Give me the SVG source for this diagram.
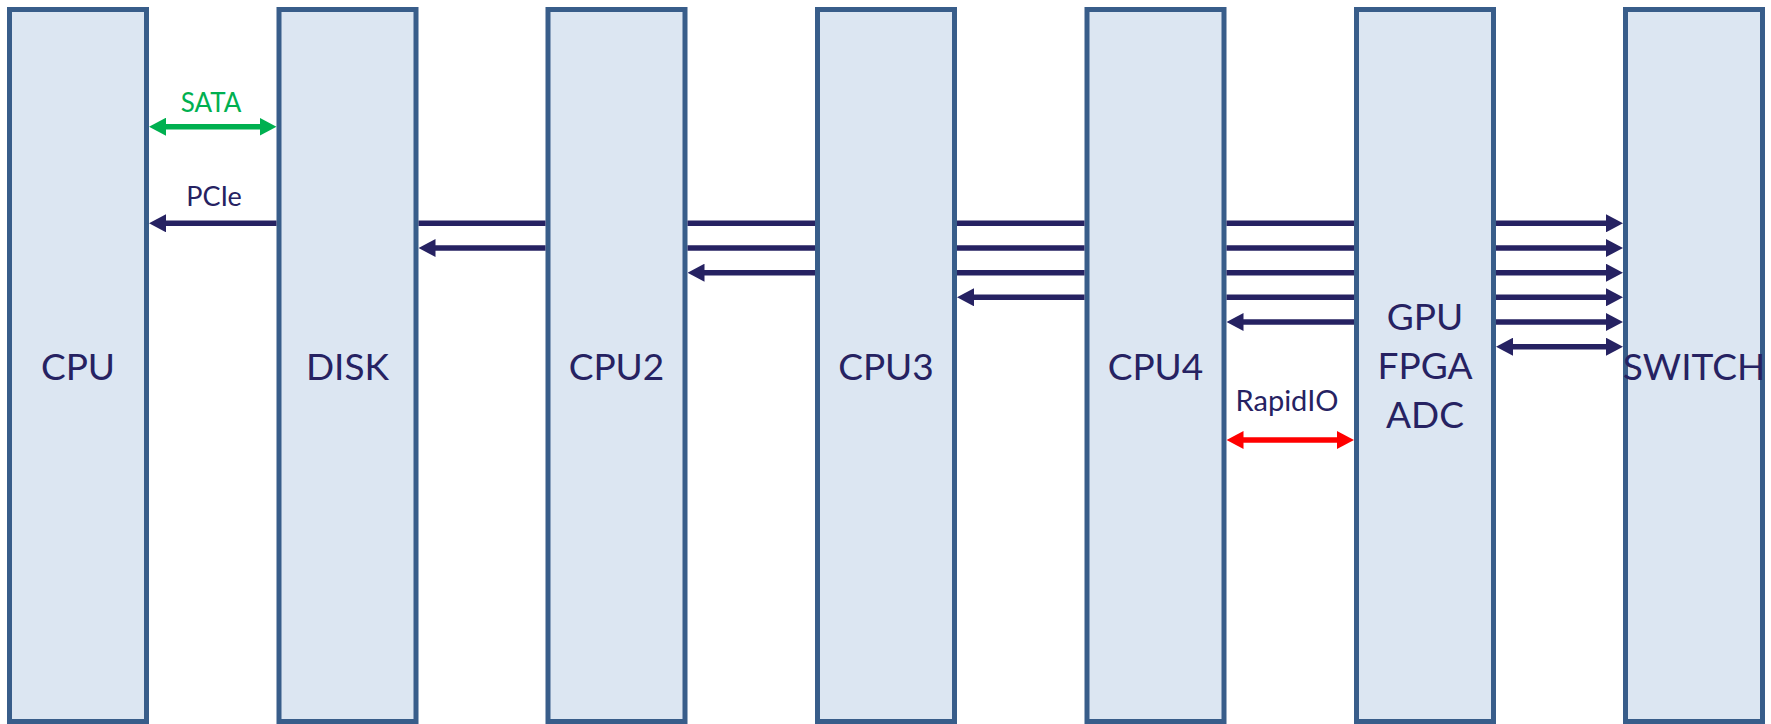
<svg xmlns="http://www.w3.org/2000/svg" width="1771" height="724" viewBox="0 0 1771 724">
<style>
.box{fill:#DCE6F2;stroke:#385D8A;stroke-width:5}
.lbl{font-family:Lato,"Liberation Sans",sans-serif;font-size:37px;fill:#262262;text-anchor:middle}
.clbl{font-family:Lato,"Liberation Sans",sans-serif;font-size:26px;text-anchor:middle}
.nv{stroke:#262262;stroke-width:5.5;fill:none}
.gr{stroke:#00B050;stroke-width:5.5;fill:none}
.rd{stroke:#FF0000;stroke-width:5.5;fill:none}
.ae{marker-end:url(#hN)}
</style>
<defs>
<marker id="hN" markerUnits="userSpaceOnUse" markerWidth="17" markerHeight="18" refX="2" refY="9" orient="auto-start-reverse" viewBox="0 0 17 18"><path d="M0,0 L17,9 L0,18 z" fill="#262262"/></marker>
<marker id="hG" markerUnits="userSpaceOnUse" markerWidth="17" markerHeight="18" refX="2" refY="9" orient="auto-start-reverse" viewBox="0 0 17 18"><path d="M0,0 L17,9 L0,18 z" fill="#00B050"/></marker>
<marker id="hR" markerUnits="userSpaceOnUse" markerWidth="17" markerHeight="18" refX="2" refY="9" orient="auto-start-reverse" viewBox="0 0 17 18"><path d="M0,0 L17,9 L0,18 z" fill="#FF0000"/></marker>
</defs>
<g id="cpu"><rect class="box" x="9.5" y="9.5" width="137" height="712"/><text class="lbl" x="78" y="380">CPU</text></g>
<g id="disk"><rect class="box" x="279" y="9.5" width="137" height="712"/><text class="lbl" x="347.5" y="380">DISK</text></g>
<g id="cpu2"><rect class="box" x="548" y="9.5" width="137" height="712"/><text class="lbl" x="616.5" y="380">CPU2</text></g>
<g id="cpu3"><rect class="box" x="817.5" y="9.5" width="137" height="712"/><text class="lbl" x="886" y="380">CPU3</text></g>
<g id="cpu4"><rect class="box" x="1087" y="9.5" width="137" height="712"/><text class="lbl" x="1155.5" y="380">CPU4</text></g>
<g id="gpu"><rect class="box" x="1356.5" y="9.5" width="137" height="712"/><text class="lbl" x="1425" y="330">GPU</text><text class="lbl" x="1425" y="379">FPGA</text><text class="lbl" x="1425" y="428">ADC</text></g>
<g id="switch"><rect class="box" x="1625.5" y="9.5" width="137" height="712"/><text class="lbl" x="1694" y="380">SWITCH</text></g>
<g id="connectors">
<line class="gr" x1="164" y1="126.7" x2="261.5" y2="126.7" marker-start="url(#hG)" marker-end="url(#hG)"/>
<text class="clbl" x="211" y="112" fill="#00B050">SATA</text>
<line class="nv ae" x1="276.5" y1="223.3" x2="164" y2="223.3"/>
<text class="clbl" x="214" y="206" fill="#262262" style="font-size:27px">PCIe</text>
<line class="nv" x1="418.5" y1="223.3" x2="545.5" y2="223.3"/>
<line class="nv ae" x1="545.5" y1="248" x2="433.5" y2="248"/>
<line class="nv" x1="687.5" y1="223.3" x2="815" y2="223.3"/>
<line class="nv" x1="687.5" y1="248" x2="815" y2="248"/>
<line class="nv ae" x1="815" y1="272.7" x2="702.5" y2="272.7"/>
<line class="nv" x1="957" y1="223.3" x2="1084.5" y2="223.3"/>
<line class="nv" x1="957" y1="248" x2="1084.5" y2="248"/>
<line class="nv" x1="957" y1="272.7" x2="1084.5" y2="272.7"/>
<line class="nv ae" x1="1084.5" y1="297.3" x2="972" y2="297.3"/>
<line class="nv" x1="1226.5" y1="223.3" x2="1354" y2="223.3"/>
<line class="nv" x1="1226.5" y1="248" x2="1354" y2="248"/>
<line class="nv" x1="1226.5" y1="272.7" x2="1354" y2="272.7"/>
<line class="nv" x1="1226.5" y1="297.3" x2="1354" y2="297.3"/>
<line class="nv ae" x1="1354" y1="322" x2="1241.5" y2="322"/>
<line class="nv ae" x1="1496" y1="223.3" x2="1608" y2="223.3"/>
<line class="nv ae" x1="1496" y1="248" x2="1608" y2="248"/>
<line class="nv ae" x1="1496" y1="272.7" x2="1608" y2="272.7"/>
<line class="nv ae" x1="1496" y1="297.3" x2="1608" y2="297.3"/>
<line class="nv ae" x1="1496" y1="322" x2="1608" y2="322"/>
<line class="nv" x1="1511" y1="346.7" x2="1608" y2="346.7" marker-start="url(#hN)" marker-end="url(#hN)"/>
<text class="clbl" x="1287" y="411" fill="#262262" style="font-size:29px">RapidIO</text>
<line class="rd" x1="1241.5" y1="440" x2="1339" y2="440" marker-start="url(#hR)" marker-end="url(#hR)"/>
</g>
</svg>
